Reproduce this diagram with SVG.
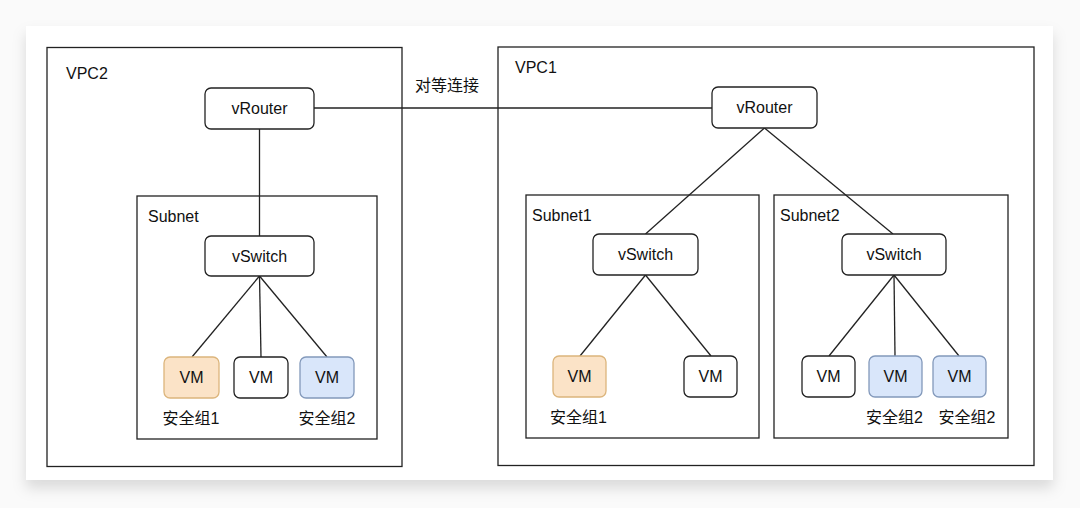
<svg xmlns="http://www.w3.org/2000/svg" width="1080" height="508" viewBox="0 0 1080 508">
<defs>
<filter id="shadow" x="-5%" y="-5%" width="110%" height="115%">
<feDropShadow dx="0" dy="8" stdDeviation="7" flood-color="#000" flood-opacity="0.13"/>
</filter>
<style>
.frame{fill:none;stroke:#222;stroke-width:1.3}
.node{fill:#fff;stroke:#222;stroke-width:1.3}
.vm-o{fill:#fbe3c7;stroke:#dcb57c;stroke-width:1.3}
.vm-b{fill:#d9e6fa;stroke:#8399bb;stroke-width:1.3}
.vm-w{fill:#fff;stroke:#222;stroke-width:1.3}
text{font-family:"Liberation Sans","Noto Sans CJK SC",Arial,sans-serif;font-size:16px;fill:#111}
.c{text-anchor:middle}
.conn line{stroke:#222;stroke-width:1.3}
</style>
</defs>
<rect x="0" y="0" width="1080" height="508" fill="#fafafa"/>
<rect x="26" y="26" width="1027" height="454" fill="#fff" filter="url(#shadow)"/>

<g id="vpc2">
<rect class="frame" x="47" y="47.5" width="355" height="419"/>
<text x="66" y="79">VPC2</text>
</g>
<g id="subnet">
<rect class="frame" x="137" y="196" width="240" height="243"/>
<text x="148" y="222">Subnet</text>
</g>
<g id="vpc1">
<rect class="frame" x="498" y="47" width="536" height="418.5"/>
<text x="515" y="73">VPC1</text>
</g>
<g id="subnet1">
<rect class="frame" x="526" y="195" width="233" height="243"/>
<text x="532" y="221">Subnet1</text>
</g>
<g id="subnet2">
<rect class="frame" x="774" y="195" width="234" height="243"/>
<text x="780" y="221">Subnet2</text>
</g>

<g class="conn" id="connectors">
<line x1="314" y1="108" x2="712" y2="108"/>
<line x1="259.5" y1="129" x2="259.5" y2="236"/>
<line x1="259.5" y1="276" x2="192" y2="357"/>
<line x1="259.5" y1="276" x2="261" y2="357"/>
<line x1="259.5" y1="276" x2="327" y2="357"/>
<line x1="764.5" y1="128" x2="645.5" y2="234"/>
<line x1="764.5" y1="128" x2="893" y2="234"/>
<line x1="645.5" y1="275" x2="580" y2="356"/>
<line x1="645.5" y1="275" x2="711" y2="356"/>
<line x1="894" y1="275" x2="829" y2="356"/>
<line x1="894" y1="275" x2="895" y2="356"/>
<line x1="894" y1="275" x2="959" y2="356"/>
</g>
<text x="415" y="91">对等连接</text>

<g id="vrouter2">
<rect class="node" x="205" y="88" width="109" height="41" rx="6"/>
<text class="c" x="259.5" y="114">vRouter</text>
</g>
<g id="vswitch2">
<rect class="node" x="205" y="236" width="109" height="40" rx="6"/>
<text class="c" x="259.5" y="262">vSwitch</text>
</g>
<g id="vm2a">
<rect class="vm-o" x="164" y="357" width="55" height="41" rx="6"/>
<text class="c" x="191.5" y="383">VM</text>
<text class="c" x="191" y="424">安全组1</text>
</g>
<g id="vm2b">
<rect class="vm-w" x="234" y="357" width="54" height="41" rx="6"/>
<text class="c" x="261" y="383">VM</text>
</g>
<g id="vm2c">
<rect class="vm-b" x="300" y="357" width="54" height="41" rx="6"/>
<text class="c" x="327" y="383">VM</text>
<text class="c" x="327" y="424">安全组2</text>
</g>

<g id="vrouter1">
<rect class="node" x="712" y="87" width="105" height="41" rx="6"/>
<text class="c" x="764.5" y="113">vRouter</text>
</g>
<g id="vswitch1a">
<rect class="node" x="593" y="234" width="105" height="41" rx="6"/>
<text class="c" x="645.5" y="260">vSwitch</text>
</g>
<g id="vswitch1b">
<rect class="node" x="842" y="234" width="104" height="41" rx="6"/>
<text class="c" x="894" y="260">vSwitch</text>
</g>
<g id="vm1a">
<rect class="vm-o" x="553" y="356" width="53" height="41" rx="6"/>
<text class="c" x="579.5" y="382">VM</text>
<text class="c" x="578.5" y="423">安全组1</text>
</g>
<g id="vm1b">
<rect class="vm-w" x="684" y="356" width="53" height="41" rx="6"/>
<text class="c" x="710.5" y="382">VM</text>
</g>
<g id="vm1c">
<rect class="vm-w" x="802" y="356" width="53" height="41" rx="6"/>
<text class="c" x="828.5" y="382">VM</text>
</g>
<g id="vm1d">
<rect class="vm-b" x="869" y="356" width="53" height="41" rx="6"/>
<text class="c" x="895.5" y="382">VM</text>
<text class="c" x="894.5" y="423">安全组2</text>
</g>
<g id="vm1e">
<rect class="vm-b" x="933" y="356" width="53" height="41" rx="6"/>
<text class="c" x="959.5" y="382">VM</text>
<text class="c" x="967" y="423">安全组2</text>
</g>
</svg>
